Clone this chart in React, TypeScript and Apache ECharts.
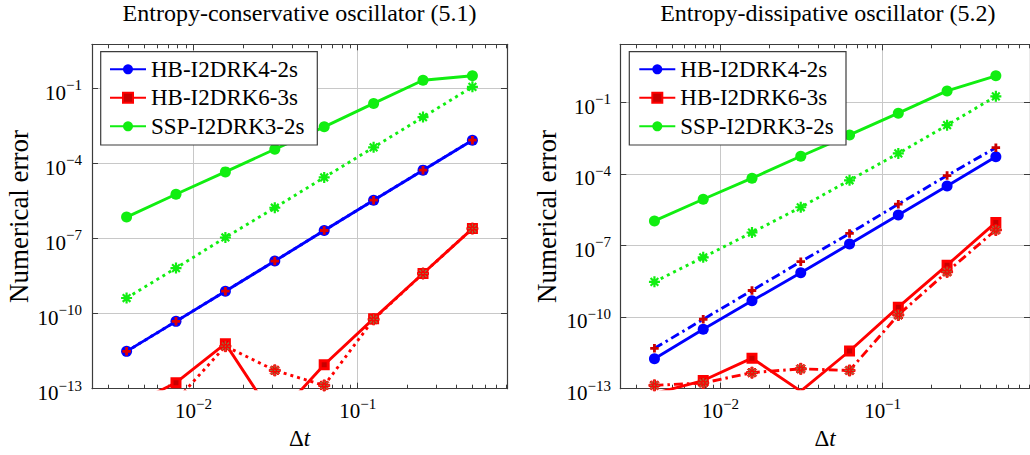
import React, { useEffect, useRef } from 'react';
import * as echarts from 'echarts';

// Time steps Δt = 2^-8 … 2^-1
const stepSizes = [1 / 256, 1 / 128, 1 / 64, 1 / 32, 1 / 16, 1 / 8, 1 / 4, 1 / 2];

// Entropy-conservative oscillator (5.1): solid curves and their dotted companions
const consHB4 = [3.1e-12, 4.9e-11, 7.9e-10, 1.26e-8, 2.1e-7, 3.4e-6, 5.4e-5, 8.5e-4];
const consHB4Dotted = [3.1e-12, 4.9e-11, 7.9e-10, 1.26e-8, 2.1e-7, 3.4e-6, 5.4e-5, 8.5e-4];
const consHB6 = [1.8e-14, 1.74e-13, 6.3e-12, 6.3e-15, 9.1e-13, 6.3e-11, 4.0e-9, 2.5e-7];
const consHB6Dotted = [1.0e-14, 3.3e-14, 5.0e-12, 5.4e-13, 1.35e-13, 5.9e-11, 4.0e-9, 2.5e-7];
const consSSP3 = [7.2e-7, 5.9e-6, 4.6e-5, 3.7e-4, 2.9e-3, 2.5e-2, 0.21, 0.32];
const consSSP3Dotted = [4.2e-10, 6.6e-9, 1.1e-7, 1.7e-6, 2.75e-5, 4.4e-4, 7.1e-3, 0.115];

// Entropy-dissipative oscillator (5.2): solid curves and their dash-dot / dotted companions
const dissHB4 = [1.8e-12, 3.1e-11, 4.8e-10, 7.2e-9, 1.15e-7, 1.9e-6, 3.1e-5, 5.2e-4];
const dissHB4Dashed = [4.9e-12, 8.1e-11, 1.3e-9, 2.1e-8, 3.2e-7, 5.4e-6, 8.5e-5, 1.26e-3];
const dissHB6 = [6.3e-14, 2.2e-13, 1.9e-12, 7.9e-14, 3.8e-12, 2.6e-10, 1.5e-8, 9.3e-7];
const dissHB6Dashed = [1.38e-13, 1.74e-13, 4.7e-13, 6.8e-13, 5.8e-13, 1.23e-10, 7.9e-9, 4.5e-7];
const dissSSP3 = [1.07e-6, 8.7e-6, 6.6e-5, 5.5e-4, 4.3e-3, 3.5e-2, 0.3, 1.29];
const dissSSP3Dotted = [3.0e-9, 3.2e-8, 3.5e-7, 4.0e-6, 5.4e-5, 7.2e-4, 1.1e-2, 0.178];

const methodNames = ['HB-I2DRK4-2s', 'HB-I2DRK6-3s', 'SSP-I2DRK3-2s'];
const panelTitles = ['Entropy-conservative oscillator (5.1)', 'Entropy-dissipative oscillator (5.2)'];

// Axis ticks
const xMajorTicks = [0.01, 0.1];
const xMinorTicks = [
  0.003, 0.004, 0.005, 0.006, 0.007, 0.008, 0.009,
  0.02, 0.03, 0.04, 0.05, 0.06, 0.07, 0.08, 0.09,
  0.2, 0.3, 0.4, 0.5, 0.6, 0.7, 0.8,
];
const yMajorTicks = [1e-13, 1e-10, 1e-7, 1e-4, 1e-1];

// Axis limits (x range padded by 10 % of the data span in log space)
const X_MIN = Math.pow(2, -8.7);
const X_MAX = Math.pow(2, -0.3);
const Y_MIN = 1e-13;
const Y_MAX = [Math.pow(10, 0.76), Math.pow(10, 1.43)];

const FONT = '"Liberation Serif", "Times New Roman", serif';
const FRAME = '#3c3c3c';
const GRID_LINE = '#c8c8c8';
const BLUE = '#0000ff';
const RED = '#ff0000';
const GREEN = '#11ee11';
const BROWN = '#9a6b3c';

const PLUS = 'path://M3,0H6V3H9V6H6V9H3V6H0V3H3Z';
const STAR =
  'path://M4,0H6V4H10V6H6V10H4V6H0V4H4Z M0.8,2.2L2.2,0.8L9.2,7.8L7.8,9.2Z M7.8,0.8L9.2,2.2L2.2,9.2L0.8,7.8Z';

const PANEL_LEFT = [92, 620.3];
const PANEL_TOP = 44.3;
const PANEL_W = 415;
const PANEL_H = 344.4;

function powerLabel(v: number) {
  const e = Math.round(Math.log10(v));
  return `{b|10}{s|${e < 0 ? '\u2212' : ''}${Math.abs(e)}}`;
}

const xRich = {
  b: { fontFamily: FONT, fontSize: 21, lineHeight: 30, color: '#000', verticalAlign: 'middle' },
  s: { fontFamily: FONT, fontSize: 15, lineHeight: 14, color: '#000', verticalAlign: 'top' },
};
const yRich = {
  b: { fontFamily: FONT, fontSize: 21, lineHeight: 30, color: '#000', verticalAlign: 'middle' },
  s: { fontFamily: FONT, fontSize: 15, lineHeight: 12, color: '#000', verticalAlign: 'top' },
};

const pairs = (ys: number[]) => stepSizes.map((x, i) => [x, ys[i]]);

function xAxesFor(g: number) {
  const base: any = {
    type: 'log',
    logBase: 10,
    min: X_MIN,
    max: X_MAX,
    gridIndex: g,
    axisLine: { show: false, onZero: false },
    axisTick: { show: false },
    axisLabel: { show: false },
    splitLine: { show: false },
    minorTick: { show: false },
    minorSplitLine: { show: false },
  };
  const frame = { show: true, onZero: false, lineStyle: { color: FRAME, width: 1.2 } };
  const tickLine = { color: FRAME, width: 1 };
  return [
    {
      ...base,
      position: 'bottom',
      axisLine: frame,
      axisTick: { show: true, inside: true, length: 6, customValues: xMajorTicks, lineStyle: tickLine },
      axisLabel: { show: true, customValues: xMajorTicks, formatter: powerLabel, margin: 7.3, rich: xRich },
      splitLine: { show: true, lineStyle: { color: GRID_LINE, width: 1 } },
      name: '{d|\u0394}{t|t}',
      nameLocation: 'middle',
      nameGap: 38,
      nameTextStyle: {
        rich: {
          d: { fontFamily: FONT, fontSize: 23, color: '#000' },
          t: { fontFamily: FONT, fontSize: 23, fontStyle: 'italic', color: '#000' },
        },
      },
    },
    {
      ...base,
      position: 'bottom',
      axisTick: { show: true, inside: true, length: 4, customValues: xMinorTicks, lineStyle: tickLine },
    },
    {
      ...base,
      position: 'top',
      axisLine: frame,
      axisTick: { show: true, inside: true, length: 6, customValues: xMajorTicks, lineStyle: tickLine },
    },
    {
      ...base,
      position: 'top',
      axisTick: { show: true, inside: true, length: 4, customValues: xMinorTicks, lineStyle: tickLine },
    },
  ];
}

function yAxesFor(g: number) {
  const base: any = {
    type: 'log',
    logBase: 10,
    min: Y_MIN,
    max: Y_MAX[g],
    gridIndex: g,
    axisLine: { show: true, onZero: false, lineStyle: { color: FRAME, width: 1.2 } },
    axisTick: {
      show: true,
      inside: true,
      length: 6,
      customValues: yMajorTicks,
      lineStyle: { color: FRAME, width: 1 },
    },
    axisLabel: { show: false },
    splitLine: { show: false },
    minorTick: { show: false },
    minorSplitLine: { show: false },
  };
  return [
    {
      ...base,
      position: 'left',
      axisLabel: {
        show: true,
        customValues: yMajorTicks,
        formatter: powerLabel,
        margin: g === 0 ? 10 : 9.3,
        padding: [8.6, 0, 0, 0],
        rich: yRich,
      },
      splitLine: { show: true, lineStyle: { color: GRID_LINE, width: 1 } },
      name: 'Numerical error',
      nameLocation: 'middle',
      nameGap: 60,
      nameTextStyle: { fontFamily: FONT, fontSize: 27, color: '#000' },
    },
    { ...base, position: 'right' },
  ];
}

type CurveStyle = {
  name: string;
  values: number[];
  color: string;
  dash: 'solid' | number[];
  symbol: string;
  symbolSize: number;
  itemStyle: any;
};

function curveSeries(g: number, c: CurveStyle) {
  return {
    type: 'line',
    name: c.name,
    xAxisIndex: 4 * g,
    yAxisIndex: 2 * g,
    data: pairs(c.values),
    symbol: c.symbol,
    symbolSize: c.symbolSize,
    showAllSymbol: true,
    clip: true,
    lineStyle: { color: c.color, width: 2.9, type: c.dash, cap: 'butt' },
    itemStyle: c.itemStyle,
    emphasis: { disabled: true },
  };
}

const DOTS = [3, 4];
const DASH_DOT = [9, 4, 2.5, 4];

const solidStyles = {
  hb4: { color: BLUE, symbol: 'circle', symbolSize: 11, itemStyle: { color: BLUE } },
  hb6: {
    color: RED,
    symbol: 'rect',
    symbolSize: 8,
    itemStyle: { color: '#c80000', borderColor: RED, borderWidth: 3 },
  },
  ssp: { color: GREEN, symbol: 'circle', symbolSize: 11, itemStyle: { color: GREEN } },
};

function buildSeries() {
  const out: any[] = [];
  // conservative panel
  out.push(curveSeries(0, { name: methodNames[0], values: consHB4, dash: 'solid', ...solidStyles.hb4 }));
  out.push(curveSeries(0, { name: methodNames[1], values: consHB6, dash: 'solid', ...solidStyles.hb6 }));
  out.push(curveSeries(0, { name: methodNames[2], values: consSSP3, dash: 'solid', ...solidStyles.ssp }));
  out.push(
    curveSeries(0, {
      name: methodNames[0] + ' (dotted)',
      values: consHB4Dotted,
      color: BLUE,
      dash: DOTS,
      symbol: PLUS,
      symbolSize: 8.5,
      itemStyle: { color: '#e00000' },
    })
  );
  out.push(
    curveSeries(0, {
      name: methodNames[1] + ' (dotted)',
      values: consHB6Dotted,
      color: RED,
      dash: DOTS,
      symbol: STAR,
      symbolSize: 11,
      itemStyle: { color: BROWN, borderColor: RED, borderWidth: 1 },
    })
  );
  out.push(
    curveSeries(0, {
      name: methodNames[2] + ' (dotted)',
      values: consSSP3Dotted,
      color: GREEN,
      dash: DOTS,
      symbol: STAR,
      symbolSize: 11,
      itemStyle: { color: GREEN },
    })
  );
  // dissipative panel
  out.push(curveSeries(1, { name: methodNames[0], values: dissHB4, dash: 'solid', ...solidStyles.hb4 }));
  out.push(curveSeries(1, { name: methodNames[1], values: dissHB6, dash: 'solid', ...solidStyles.hb6 }));
  out.push(curveSeries(1, { name: methodNames[2], values: dissSSP3, dash: 'solid', ...solidStyles.ssp }));
  out.push(
    curveSeries(1, {
      name: methodNames[0] + ' (dash-dot)',
      values: dissHB4Dashed,
      color: BLUE,
      dash: DASH_DOT,
      symbol: PLUS,
      symbolSize: 8.5,
      itemStyle: { color: '#cc0000' },
    })
  );
  out.push(
    curveSeries(1, {
      name: methodNames[1] + ' (dash-dot)',
      values: dissHB6Dashed,
      color: RED,
      dash: DASH_DOT,
      symbol: STAR,
      symbolSize: 11,
      itemStyle: { color: BROWN, borderColor: RED, borderWidth: 1 },
    })
  );
  out.push(
    curveSeries(1, {
      name: methodNames[2] + ' (dotted)',
      values: dissSSP3Dotted,
      color: GREEN,
      dash: DOTS,
      symbol: STAR,
      symbolSize: 11,
      itemStyle: { color: GREEN },
    })
  );
  return out;
}

function buildOption() {
  const legendBoxes = [
    { x: 100.7, y: 51.7, width: 216.6, height: 93.3 },
    { x: 629.3, y: 51.7, width: 216.7, height: 93.3 },
  ];
  const legendLeft = [109, 638.3];
  const titleX = [299.5, 827.8];

  return {
    animation: false,
    backgroundColor: '#ffffff',
    grid: [0, 1].map((g) => ({
      left: PANEL_LEFT[g],
      top: PANEL_TOP,
      width: PANEL_W,
      height: PANEL_H,
      containLabel: false,
    })),
    xAxis: [...xAxesFor(0), ...xAxesFor(1)],
    yAxis: [...yAxesFor(0), ...yAxesFor(1)],
    legend: [0, 1].map((g) => ({
      data: methodNames,
      orient: 'vertical',
      left: legendLeft[g],
      top: 57.3,
      padding: 0,
      itemWidth: 36,
      itemHeight: 12.5,
      itemGap: 4.5,
      selectedMode: false,
      z: 20,
      textStyle: {
        fontFamily: FONT,
        fontSize: 23,
        color: '#000',
        lineHeight: 24,
      },
    })),
    graphic: [
      ...legendBoxes.map((b) => ({
        type: 'rect',
        z: 15,
        silent: true,
        shape: b,
        style: { fill: '#ffffff', stroke: FRAME, lineWidth: 1.2 },
      })),
      ...titleX.map((x, g) => ({
        type: 'text',
        x,
        y: 1,
        z: 15,
        silent: true,
        style: {
          text: panelTitles[g],
          fontFamily: FONT,
          fontSize: 24,
          lineHeight: 24,
          fill: '#000',
          align: 'center',
          verticalAlign: 'top',
        },
      })),
    ],
    series: buildSeries(),
  };
}

export default function App() {
  const ref = useRef<HTMLDivElement>(null);

  useEffect(() => {
    if (!ref.current) return;
    const chart = echarts.init(ref.current, null, { renderer: 'svg' });
    chart.setOption(buildOption() as any);
    return () => chart.dispose();
  }, []);

  return (
    <div
      ref={ref}
      style={{ position: 'absolute', left: 0, top: 0, width: 1030, height: 455, overflow: 'hidden' }}
    />
  );
}
